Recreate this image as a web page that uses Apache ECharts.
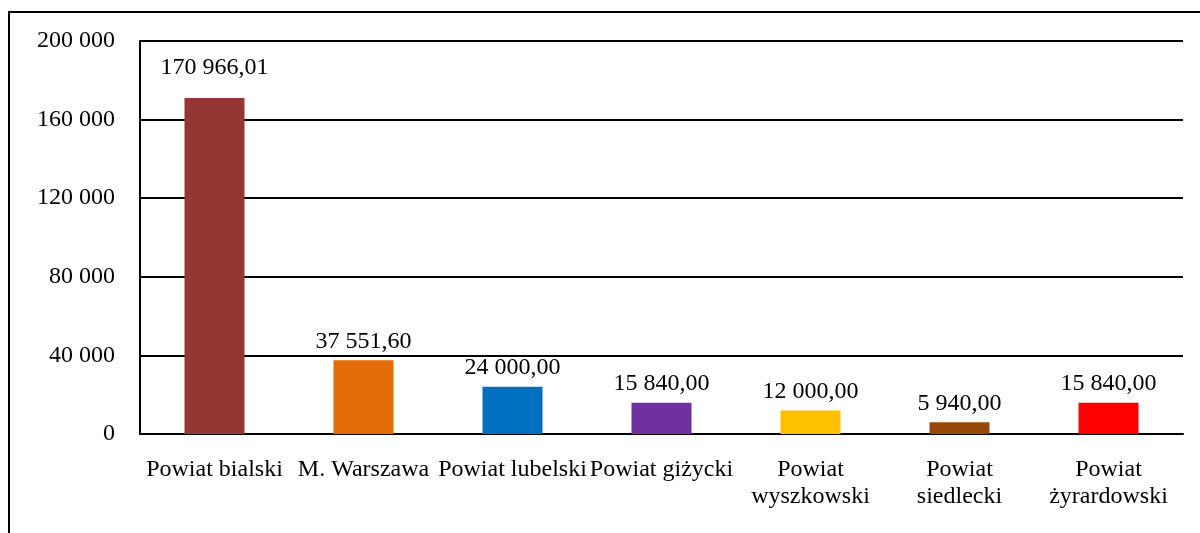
<!DOCTYPE html>
<html>
<head>
<meta charset="utf-8">
<script src="https://cdn.jsdelivr.net/npm/echarts@6/dist/echarts.min.js"></script>
<style>
  html, body { margin: 0; padding: 0; background: #fff; }
  #c1 { width: 1200px; height: 533px; }
</style>
</head>
<body>
<div id="c1"></div>
<script>
// kategorie (powiaty)
var categories = ['Powiat bialski', 'M. Warszawa', 'Powiat lubelski', 'Powiat giżycki',
    'Powiat\nwyszkowski', 'Powiat\nsiedlecki', 'Powiat\nżyrardowski'];
// wartości
var values = [170966.01, 37551.60, 24000.00, 15840.00, 12000.00, 5940.00, 15840.00];
// kolory słupków
var colors = ['#943634', '#E36C09', '#0070C0', '#7030A0', '#FFC000', '#974806', '#FF0000'];

var font = '"Liberation Serif", "Times New Roman", serif';

//format liczby: spacja jako separator tysięcy
function fmt(v, dec) {
    var s = v.toFixed(dec);
    var parts = s.split('.');
    var intPart = parts[0].replace(/\B(?=(\d{3})+(?!\d))/g, ' ');
    return parts.length > 1 ? intPart + ',' + parts[1] : intPart;
}

var chart = echarts.init(document.getElementById('c1'));
chart.setOption({
    animation: false,
    grid: { left: 140, right: 17, top: 41, bottom: 99, containLabel: false },
    graphic: [{
        type: 'rect',
        shape: { x: 9, y: 12, width: 1200, height: 540 },
        style: { fill: 'none', stroke: '#000', lineWidth: 2 },
        silent: true
    }],
    xAxis: {
        type: 'category',
        data: categories,
        axisLine: { show: true, lineStyle: { color: '#000', width: 2 } },
        axisTick: { show: false },
        axisLabel: {
            interval: 0,
            margin: 22,
            color: '#000',
            fontFamily: font,
            fontSize: 24,
            lineHeight: 27
        }
    },
    yAxis: {
        type: 'value',
        min: 0,
        max: 200000,
        interval: 40000,
        axisLine: { show: true, lineStyle: { color: '#000', width: 2 } },
        axisTick: { show: false },
        splitLine: { lineStyle: { color: '#000', width: 2 } },
        axisLabel: {
            margin: 25,
            color: '#000',
            fontFamily: font,
            fontSize: 24,
            formatter: function (v) { return fmt(v, 0); }
        }
    },
    series: [{
        type: 'bar',
        barWidth: 60,
        data: values.map(function (v, i) {
            var item = { value: v, itemStyle: { color: colors[i] } };
            if (i === 0) {
                item.label = { distance: 18 };
            }
            return item;
        }),
        label: {
            show: true,
            position: 'top',
            distance: 7,
            color: '#000',
            fontFamily: font,
            fontSize: 24,
            formatter: function (p) { return fmt(p.value, 2); }
        }
    }]
});
</script>
</body>
</html>
